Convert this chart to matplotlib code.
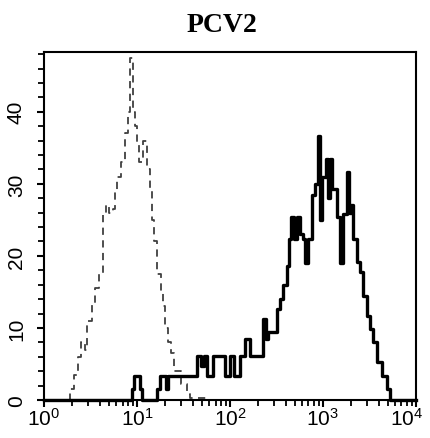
import matplotlib
matplotlib.use("Agg")
import matplotlib.pyplot as plt
import matplotlib.transforms as mtransforms
from matplotlib.ticker import LogLocator, MultipleLocator, NullFormatter

plt.rcParams['font.family'] = ['Liberation Sans', 'DejaVu Sans']
plt.rcParams['mathtext.fontset'] = 'custom'
plt.rcParams['mathtext.rm'] = 'Liberation Sans'
plt.rcParams['mathtext.it'] = 'Liberation Sans'

title = "PCV2"

# control (isotype) histogram: step start positions (fluorescence) and counts
ctrl_x = [1.0, 1.90, 2.10, 2.32, 2.50, 2.76, 2.90, 3.28, 3.53, 3.90, 4.31, 4.64,
          5.00, 5.52, 5.80, 6.10, 6.73, 7.43, 8.00, 8.41, 9.06, 9.51, 10.0,
          10.5, 11.6, 12.8, 13.8, 14.5, 15.2, 16.4, 18.1, 19.0, 20.0, 21.5,
          23.2, 25.0, 29.7, 34.5, 37.2, 60.0, 10000.0]
ctrl_y = [0, 1.5, 3.5, 6, 8, 7, 11, 13.5, 15.5, 17.5, 26, 27,
          26, 26.5, 29, 31, 33, 37, 40, 47.5, 40, 38, 35.5,
          33, 36, 32, 29, 25, 22, 17.5, 15, 13, 10, 8,
          6.5, 4, 2.2, 0.8, 0.3, 0, 0]

# PCV2 stained histogram
pcv2_x = [1.0, 8.84, 9.28, 10.8, 11.3, 16.4, 17.7, 20.5, 21.5, 23.8, 44.2,
          48.8, 52.5, 56.6, 65.6, 88.3, 100, 110, 128, 145, 164, 226, 244,
          256, 320, 345, 372, 410, 431, 453, 488, 525, 566, 610, 641, 690,
          762, 821, 884, 929, 975, 1077, 1132, 1189, 1250, 1415, 1524, 1641,
          1812, 1905, 2000, 2102, 2321, 2500, 2692, 2972, 3201, 3450, 3809,
          4307, 4877, 5250, 10000]
pcv2_y = [0, 1.5, 3.3, 1.5, 0, 1.5, 3.3, 1.5, 3.3, 3.3, 6.1,
          4.7, 6.1, 3.3, 6.1, 3.3, 6.1, 3.3, 6.1, 8.5, 6.1, 11.2, 8.5,
          9.5, 12.6, 14, 15.9, 18.6, 22.4, 25.4, 22.4, 25.4, 23, 22.4, 19, 22.4,
          28.4, 30, 36.7, 25, 31, 33.5, 28, 33.5, 29.3, 25.4, 19, 25.8,
          31.6, 26, 27, 22.4, 19.2, 17.7, 14.5, 11.7, 9.9, 8, 5.3,
          3.3, 1.5, 0, 0]

fig = plt.figure(figsize=(4.30, 4.39), dpi=100)
ax = fig.add_axes([0.1023, 0.0866, 0.8647, 0.7927])

ax.step(ctrl_x, ctrl_y, where='post', color='#404040', lw=1.3,
        linestyle=(0, (4, 3)), zorder=2)
ax.step(pcv2_x, pcv2_y, where='post', color='black', lw=2.4, zorder=3,
        clip_on=False)

ax.set_xscale('log')
ax.set_xlim(1, 10000)
ax.set_ylim(0, 48.3)

ax.xaxis.set_major_locator(LogLocator(base=10, numticks=10))
ax.xaxis.set_minor_locator(LogLocator(base=10, subs=range(2, 10), numticks=50))
ax.xaxis.set_minor_formatter(NullFormatter())
ax.yaxis.set_major_locator(MultipleLocator(10))
ax.yaxis.set_minor_locator(MultipleLocator(2))

for s in ax.spines.values():
    s.set_linewidth(1.5)

ax.tick_params(axis='both', which='major', length=5, width=1.5, direction='out',
               labelsize=15)
ax.tick_params(axis='both', which='minor', length=4, width=1.3, direction='out')
ax.tick_params(axis='x', which='major', pad=0)
ax.tick_params(axis='y', which='major', pad=8)
for lab in ax.get_yticklabels():
    lab.set_rotation(90)
    lab.set_va('center')

fig.canvas.draw()
xlabels = ax.get_xticklabels()
shift = mtransforms.ScaledTranslation(-7 / 72.0, 0, fig.dpi_scale_trans)
for lab in xlabels:
    if '{4}' in lab.get_text():
        lab.set_transform(lab.get_transform() + shift)

fig.text(0.516, 0.942, title, ha='center', va='center', fontsize=20,
         fontweight='bold', family=['Liberation Serif', 'DejaVu Serif'])

fig.savefig('out.png', dpi=100)
